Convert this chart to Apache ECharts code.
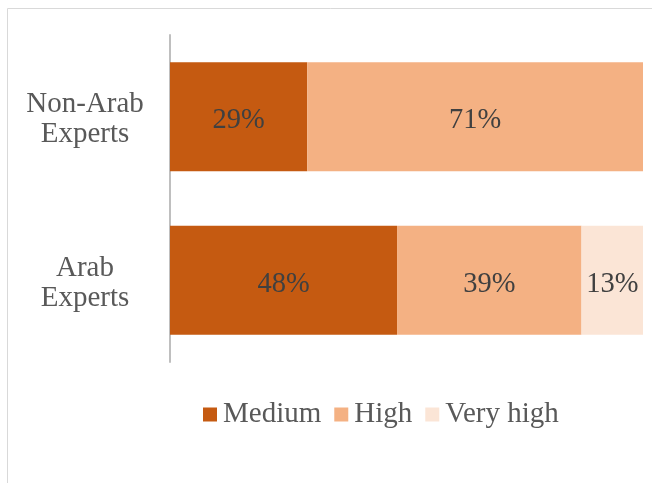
<!DOCTYPE html>
<html><head><meta charset="utf-8">
<script src="https://cdn.jsdelivr.net/npm/echarts@6/dist/echarts.min.js"></script>
<style>html,body{margin:0;padding:0;background:#fff}#c{width:652px;height:483px}</style>
</head><body><div id="c"></div>
<script>
var categories = ['Arab\nExperts', 'Non-Arab\nExperts'];
var seriesNames = ['Medium', 'High', 'Very high'];
var medium = [48, 29];
var high = [39, 71];
var veryHigh = [13, 0];
var colors = ['#C55A11', '#F4B183', '#FBE5D6'];

var chart = echarts.init(document.getElementById('c'));
var font = 'Liberation Serif, Times New Roman, serif';
function mk(name, data, color) {
  return {
    name: name, type: 'bar', stack: 'a', data: data, barWidth: 109,
    itemStyle: { color: color },
    label: { show: true, position: 'inside', offset: [0, 4], formatter: function(p){ return p.value > 0 ? p.value + '%' : ''; },
      color: '#404040', fontSize: 28.5, fontFamily: font },
    emphasis: { disabled: true }
  };
}
chart.setOption({
  animation: false,
  graphic: [{ type: 'rect', shape: { x: 7.5, y: 8.5, width: 700, height: 600 },
    style: { fill: 'none', stroke: '#D9D9D9', lineWidth: 1 }, silent: true }],
  grid: { left: 170, right: 9, top: 35, bottom: 121 },
  xAxis: { type: 'value', min: 0, max: 100, show: false },
  yAxis: { type: 'category', data: categories,
    axisLine: { show: true, lineStyle: { color: '#BFBFBF', width: 2 } },
    axisTick: { show: false },
    axisLabel: { align: 'center', margin: 85,
      formatter: function(v){ return '{s| }\n' + v.split('\n').map(function(t){ return '{a|' + t + '}'; }).join('\n'); },
      rich: {
        s: { fontSize: 1, lineHeight: 6 },
        a: { color: '#595959', fontSize: 29, fontFamily: font, lineHeight: 30 }
      } } },
  legend: { top: 395, left: 198, icon: 'rect', itemWidth: 14, itemHeight: 14, itemGap: 13,
    textStyle: { color: '#595959', fontSize: 29, fontFamily: font, padding: [0,0,0,1] },
    data: seriesNames },
  series: [mk(seriesNames[0], medium, colors[0]), mk(seriesNames[1], high, colors[1]), mk(seriesNames[2], veryHigh, colors[2])]
});
</script></body></html>
